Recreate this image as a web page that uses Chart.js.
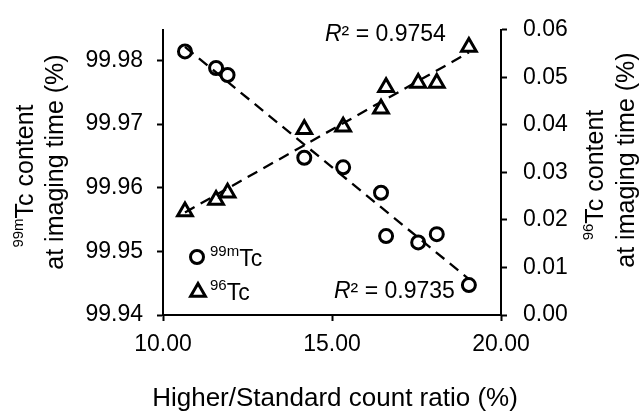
<!DOCTYPE html>
<html>
<head>
<meta charset="utf-8">
<script src="https://cdn.jsdelivr.net/npm/chart.js@4.4.0/dist/chart.umd.min.js"></script>
<style>
body { margin: 0; background: #fff; }
</style>
</head>
<body>
<canvas id="myChart" width="642" height="420"></canvas>
<script>
// values
const countRatio = [10.65, 11.57, 11.91, 14.18, 15.33, 16.45, 16.60, 17.55, 18.10, 19.05];
const tc99m = [99.9814, 99.9788, 99.9777, 99.9647, 99.9632, 99.9592, 99.9524, 99.9514, 99.9527, 99.9447];
const tc96 = [0.0218, 0.0242, 0.0257, 0.0391, 0.0396, 0.0434, 0.0479, 0.0488, 0.0488, 0.0564];
const leftTicks = [99.94, 99.95, 99.96, 99.97, 99.98];
const rSquared = ["0.9754", "0.9735"];

const FONT = "'Liberation Sans', Arial, sans-serif";

function toPoints(xs, ys) {
    return xs.map((x, i) => ({ x: x, y: ys[i] }));
}

// least squares line between the first and last x
function fitLine(xs, ys) {
    const n = xs.length;
    const mx = xs.reduce((a, b) => a + b, 0) / n;
    const my = ys.reduce((a, b) => a + b, 0) / n;
    let sxy = 0, sxx = 0;
    for (let i = 0; i < n; i++) {
        sxy += (xs[i] - mx) * (ys[i] - my);
        sxx += (xs[i] - mx) * (xs[i] - mx);
    }
    const b = sxy / sxx, a = my - b * mx;
    const x0 = Math.min(...xs), x1 = Math.max(...xs);
    return [{ x: x0, y: a + b * x0 }, { x: x1, y: a + b * x1 }];
}

function drawParts(ctx, parts, x, y, align) {
    let total = 0;
    parts.forEach(p => {
        ctx.font = p.font;
        p.w = ctx.measureText(p.text).width;
        total += p.w;
    });
    let cx = align === 'center' ? x - total / 2 : x;
    ctx.textAlign = 'left';
    ctx.textBaseline = 'alphabetic';
    parts.forEach(p => {
        ctx.font = p.font;
        ctx.fillText(p.text, cx, y + (p.dy || 0));
        cx += p.w;
    });
}

function sup(t) { return { text: t, font: `15px ${FONT}`, dy: -10 }; }
function txt(t, size) { return { text: t, font: `${size}px ${FONT}` }; }

function drawVertical(ctx, parts, x, y) {
    ctx.save();
    ctx.translate(x, y);
    ctx.rotate(-Math.PI / 2);
    drawParts(ctx, parts, 0, 0, 'center');
    ctx.restore();
}

const textPlugin = {
    id: 'richText',
    afterDraw(chart) {
        const ctx = chart.ctx;
        ctx.save();
        ctx.fillStyle = '#000';

        // axis titles
        drawParts(ctx, [txt('Higher/Standard count ratio (%)', 26)], 335, 406, 'center');
        drawVertical(ctx, [sup('99m'), txt('Tc content', 25)], 33, 176);
        drawVertical(ctx, [txt('at imaging time (%)', 25)], 63, 162);
        drawVertical(ctx, [sup('96'), txt('Tc content', 25)], 603, 175);
        drawVertical(ctx, [txt('at imaging time (%)', 25)], 634, 160);

        // legend
        const helpers = Chart.helpers;
        ctx.strokeStyle = '#000';
        ctx.lineWidth = 3;
        ctx.fillStyle = 'rgba(0,0,0,0)';
        helpers.drawPoint(ctx, { pointStyle: 'circle', radius: 6.5, borderWidth: 3 }, 197, 257);
        helpers.drawPoint(ctx, { pointStyle: 'triangle', radius: 8.5, borderWidth: 3 }, 198, 292);
        ctx.fillStyle = '#000';
        drawParts(ctx, [sup('99m'), txt('Tc', 23)], 210, 266, 'left');
        drawParts(ctx, [sup('96'), txt('Tc', 23)], 210, 300, 'left');

        // R squared labels
        drawParts(ctx, [{ text: 'R', font: `italic 23px ${FONT}` }, txt('\u00b2 = ' + rSquared[0], 23)], 325, 41, 'left');
        drawParts(ctx, [{ text: 'R', font: `italic 23px ${FONT}` }, txt('\u00b2 = ' + rSquared[1], 23)], 334, 298, 'left');
        ctx.restore();
    }
};

const axisGrid = {
    drawOnChartArea: false,
    drawTicks: true,
    tickLength: 6,
    tickColor: '#000',
    tickWidth: 2
};
const axisBorder = { color: '#000', width: 2 };
const tickFont = { family: FONT, size: 23 };

new Chart(document.getElementById('myChart'), {
    type: 'scatter',
    data: {
        datasets: [{
            label: '99mTc trend',
            data: fitLine(countRatio, tc99m),
            yAxisID: 'y',
            showLine: true,
            borderColor: '#000',
            borderWidth: 2.3,
            borderDash: [11, 7],
            pointRadius: 0
        }, {
            label: '96Tc trend',
            data: fitLine(countRatio, tc96),
            yAxisID: 'y1',
            showLine: true,
            borderColor: '#000',
            borderWidth: 2.3,
            borderDash: [11, 7],
            pointRadius: 0
        }, {
            label: '99mTc',
            data: toPoints(countRatio, tc99m),
            yAxisID: 'y',
            pointStyle: 'circle',
            pointRadius: 6.5,
            pointBorderWidth: 3,
            borderColor: '#000',
            backgroundColor: 'rgba(0,0,0,0)'
        }, {
            label: '96Tc',
            data: toPoints(countRatio, tc96),
            yAxisID: 'y1',
            pointStyle: 'triangle',
            pointRadius: 8.5,
            pointBorderWidth: 3,
            borderColor: '#000',
            backgroundColor: 'rgba(0,0,0,0)'
        }]
    },
    options: {
        responsive: false,
        animation: false,
        layout: { padding: { top: 17, left: 0, right: 0, bottom: 0 } },
        scales: {
            x: {
                type: 'linear',
                min: 10,
                max: 20,
                ticks: {
                    stepSize: 5,
                    color: '#000',
                    font: tickFont,
                    padding: 10,
                    maxRotation: 0,
                    callback: v => Number(v).toFixed(2)
                },
                grid: axisGrid,
                border: axisBorder,
                afterFit: s => { s.height = 105; }
            },
            y: {
                position: 'left',
                min: 99.94,
                max: 99.9848,
                afterBuildTicks: s => { s.ticks = leftTicks.map(v => ({ value: v })); },
                ticks: {
                    color: '#000',
                    font: tickFont,
                    padding: 14,
                    callback: v => Number(v).toFixed(2)
                },
                grid: axisGrid,
                border: axisBorder,
                afterFit: s => { s.width = 163; }
            },
            y1: {
                position: 'right',
                min: 0,
                max: 0.06,
                ticks: {
                    stepSize: 0.01,
                    color: '#000',
                    font: tickFont,
                    padding: 16,
                    callback: v => Number(v).toFixed(2)
                },
                grid: axisGrid,
                border: axisBorder,
                afterFit: s => { s.width = 141; }
            }
        },
        plugins: {
            legend: { display: false },
            tooltip: { enabled: false }
        }
    },
    plugins: [textPlugin]
});
</script>
</body>
</html>
